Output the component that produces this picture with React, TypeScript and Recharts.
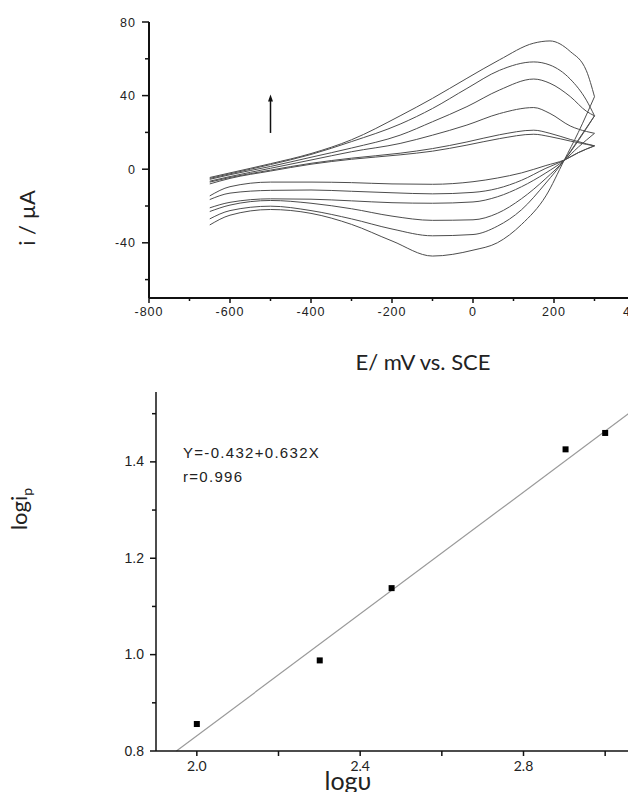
import React from "react";
import {
  ComposedChart,
  Line,
  Scatter,
  XAxis,
  YAxis,
  ReferenceLine,
  ReferenceDot,
  Customized,
} from "recharts";

// ---- cyclic voltammograms (E in mV, i in µA) ----
const potentialUp = [-650, -600, -500, -400, -300, -180, -100, -15, 65, 150, 190, 240, 280, 300];
const anodic1 = [-4.5, -2, 3, 8.5, 16, 29, 38.5, 49.4, 59.4, 68.5, 69.7, 64, 53.5, 39.4];
const anodic2 = [-5, -2.5, 2.5, 8, 15, 24.5, 33, 43.9, 53.7, 58.3, 56.6, 49, 37.5, 29];
const anodic3 = [-5.5, -3, 1.5, 6.5, 11.5, 18.5, 25.8, 34, 43, 49, 46.7, 39.5, 31.5, 29];
const anodic4 = [-6.5, -4, 0.5, 5, 9.5, 14, 18.5, 24, 30.2, 33.5, 30.3, 23.5, 20.5, 19.5];
const anodic5 = [-7, -4.5, -0.5, 3.2, 6, 8.7, 11.2, 14.8, 18.7, 21.2, 19.5, 16.2, 13.8, 12.7];
const anodic6 = [-8, -5, -1, 2.7, 5.4, 7.8, 9.8, 13.1, 16.6, 19, 17.7, 15.3, 13.5, 12.7];

const potentialDown = [-650, -600, -500, -400, -300, -200, -100, 0, 60, 120, 180, 225, 260, 300];
const cathodic1 = [-14.5, -9.5, -7, -7, -7.3, -8, -8.2, -6.8, -4.8, -2, 2, 5, 9, 12.7];
const cathodic2 = [-16.5, -13, -11.5, -11.3, -12, -12.8, -13.4, -12.6, -10.5, -6, 0.5, 4.8, 9, 12.7];
const cathodic3 = [-21, -18, -16.1, -16.3, -17.2, -18.2, -18.5, -17.8, -15, -9.5, -2, 4.8, 12, 19.5];
const cathodic4 = [-23, -19.5, -17, -18.5, -21.5, -25.5, -27.8, -27.5, -24, -16, -5, 4.8, 15.5, 29];
const cathodic5 = [-27, -22.5, -20.1, -22.5, -27, -32.5, -36.2, -35.5, -31, -22, -7.5, 4.8, 16, 29];
const cathodic6 = [-30.3, -25, -21.9, -24, -30, -39, -47.2, -44, -40, -30, -14.5, 4.8, 20, 39.4];

const cvTicksX = [-800, -700, -600, -500, -400, -300, -200, -100, 0, 100, 200, 300, 400];
const cvLabelsX = [-800, -600, -400, -200, 0, 200, 400];
const cvTicksY = [-60, -40, -20, 0, 20, 40, 60, 80];
const cvLabelsY = [-40, 0, 40, 80];
const arrowE = -500;
const arrowFrom = 19.7;
const arrowTo = 40.6;

// ---- log ip vs log v ----
const logScanRate = [2.0, 2.301, 2.477, 2.903, 3.0];
const logPeakCurrent = [0.856, 0.988, 1.138, 1.426, 1.46];
const fitEnds = [
  { x: 1.95, y: 0.8 },
  { x: 3.1, y: 1.527 },
];
const fitTicksX = [2.0, 2.2, 2.4, 2.6, 2.8, 3.0];
const fitLabelsX = [2.0, 2.4, 2.8];
const fitTicksY = [0.8, 0.9, 1.0, 1.1, 1.2, 1.3, 1.4, 1.5];
const fitLabelsY = [0.8, 1.0, 1.2, 1.4];

const toPoints = (xs: number[], ys: number[]) => xs.map((E, k) => ({ E, i: ys[k] }));
const anodic = [anodic1, anodic2, anodic3, anodic4, anodic5, anodic6];
const cathodic = [cathodic1, cathodic2, cathodic3, cathodic4, cathodic5, cathodic6];
const fitPoints = logScanRate.map((x, k) => ({ x, y: logPeakCurrent[k] }));

const has = (list: number[], v: number) => list.some((l) => Math.abs(l - v) < 1e-6);

const AXIS = "#111";
const CURVE = "#4d4d4d";
const tickFont = { fontFamily: "'Liberation Sans', Arial, sans-serif", fill: "#222" };
const labelFont = { fontFamily: "Lato, 'Open Sans', sans-serif", fill: "#222" };

function xTick(labels: number[], major: number, minor: number, dy: number, fmt: (v: number) => string, font: any) {
  return (props: any) => {
    const { x, y, payload } = props;
    const on = has(labels, payload.value);
    return (
      <g>
        <line x1={x} x2={x} y1={y} y2={y + (on ? major : minor)} stroke={AXIS} strokeWidth={1.5} />
        {on && (
          <text x={x} y={y + dy} textAnchor="middle" {...font}>
            {fmt(payload.value)}
          </text>
        )}
      </g>
    );
  };
}

function yTick(labels: number[], major: number, minor: number, gap: number, fmt: (v: number) => string, font: any) {
  return (props: any) => {
    const { x, y, payload } = props;
    const on = has(labels, payload.value);
    return (
      <g>
        <line x1={x} x2={x - (on ? major : minor)} y1={y} y2={y} stroke={AXIS} strokeWidth={1.5} />
        {on && (
          <text x={x - gap} y={y} dy={4.5} textAnchor="end" {...font}>
            {fmt(payload.value)}
          </text>
        )}
      </g>
    );
  };
}

const arrowHead = (p: any) => (
  <path d={`M${p.cx},${p.cy} L${p.cx - 2.5},${p.cy + 7} L${p.cx + 2.5},${p.cy + 7} Z`} fill={AXIS} />
);

const CvLabels = () => (
  <g>
    <text x={35} y={218} transform="rotate(-90, 35, 218)" textAnchor="middle" fontSize={22} {...labelFont}>
      i / µA
    </text>
    <text x={423} y={370} textAnchor="middle" fontSize={22} {...labelFont}>
      E/ mV vs. SCE
    </text>
  </g>
);

const FitLabels = () => (
  <g>
    <text x={27} y={129} transform="rotate(-90, 27, 129)" textAnchor="middle" fontSize={22} {...labelFont}>
      logi
      <tspan fontSize={14} dy={5}>p</tspan>
    </text>
    <text x={183} y={78} fontSize={15} letterSpacing={1.3} {...tickFont}>
      Y=-0.432+0.632X
    </text>
    <text x={183} y={101.5} fontSize={15} letterSpacing={1.3} {...tickFont}>
      r=0.996
    </text>
    <text x={348} y={410} textAnchor="middle" fontSize={25} {...labelFont}>
      logυ
    </text>
  </g>
);

export default function App() {
  return (
    <div
      style={{
        position: "fixed",
        left: 0,
        top: 0,
        width: 628,
        height: 792,
        overflow: "hidden",
        background: "#fff",
      }}
    >
      <div style={{ position: "absolute", left: 0, top: 0 }}>
        <ComposedChart width={660} height={380} margin={{ top: 22, right: 25, bottom: 0, left: 0 }}>
          <XAxis
            type="number"
            dataKey="E"
            domain={[-800, 400]}
            ticks={cvTicksX}
            interval={0}
            tickSize={0}
            tickMargin={0}
            tickLine={false}
            axisLine={{ stroke: AXIS, strokeWidth: 2 }}
            tick={xTick(cvLabelsX, 5, 3, 18, (v) => String(v), { ...tickFont, fontSize: 12.5, letterSpacing: 1 })}
            height={82}
            allowDataOverflow
          />
          <YAxis
            type="number"
            dataKey="i"
            domain={[-70, 80]}
            ticks={cvTicksY}
            interval={0}
            tickSize={0}
            tickMargin={0}
            tickLine={false}
            axisLine={{ stroke: AXIS, strokeWidth: 2 }}
            tick={yTick(cvLabelsY, 7, 4, 13, (v) => String(v), { ...tickFont, fontSize: 12.5, letterSpacing: 1 })}
            width={149}
            allowDataOverflow
          />
          {anodic.map((ys, k) => (
            <Line
              key={"a" + k}
              data={toPoints(potentialUp, ys)}
              dataKey="i"
              type="monotone"
              stroke={CURVE}
              strokeWidth={1}
              dot={false}
              isAnimationActive={false}
            />
          ))}
          {cathodic.map((ys, k) => (
            <Line
              key={"c" + k}
              data={toPoints(potentialDown, ys)}
              dataKey="i"
              type="monotone"
              stroke={CURVE}
              strokeWidth={1}
              dot={false}
              isAnimationActive={false}
            />
          ))}
          <ReferenceLine
            segment={[
              { x: arrowE, y: arrowFrom },
              { x: arrowE, y: arrowTo - 2 },
            ]}
            stroke={AXIS}
            strokeWidth={1.5}
          />
          <ReferenceDot x={arrowE} y={arrowTo} r={3} shape={arrowHead} />
          <Customized component={CvLabels} />
        </ComposedChart>
      </div>

      <div style={{ position: "absolute", left: 0, top: 380 }}>
        <ComposedChart width={660} height={412} margin={{ top: 12, right: 14, bottom: 0, left: 0 }}>
          <XAxis
            type="number"
            dataKey="x"
            domain={[1.9, 3.1]}
            ticks={fitTicksX}
            interval={0}
            tickSize={0}
            tickMargin={0}
            tickLine={false}
            axisLine={{ stroke: AXIS, strokeWidth: 1.5 }}
            tick={xTick(fitLabelsX, 5, 5, 20, (v) => v.toFixed(1), { ...labelFont, fontSize: 14 })}
            height={41}
            allowDataOverflow
          />
          <YAxis
            type="number"
            dataKey="y"
            domain={[0.8, 1.545]}
            ticks={fitTicksY}
            interval={0}
            tickSize={0}
            tickMargin={0}
            tickLine={false}
            axisLine={{ stroke: AXIS, strokeWidth: 1.5 }}
            tick={yTick(fitLabelsY, 6, 4, 12, (v) => v.toFixed(1), { ...tickFont, fontSize: 14 })}
            width={156}
            allowDataOverflow
          />
          <ReferenceLine segment={fitEnds} stroke="#9a9a9a" strokeWidth={1.2} />
          <Scatter
            data={fitPoints}
            dataKey="y"
            fill="#000"
            isAnimationActive={false}
            shape={(p: any) => <rect x={p.cx - 3} y={p.cy - 3} width={6} height={6} fill="#000" />}
          />
          <Customized component={FitLabels} />
        </ComposedChart>
      </div>
    </div>
  );
}
